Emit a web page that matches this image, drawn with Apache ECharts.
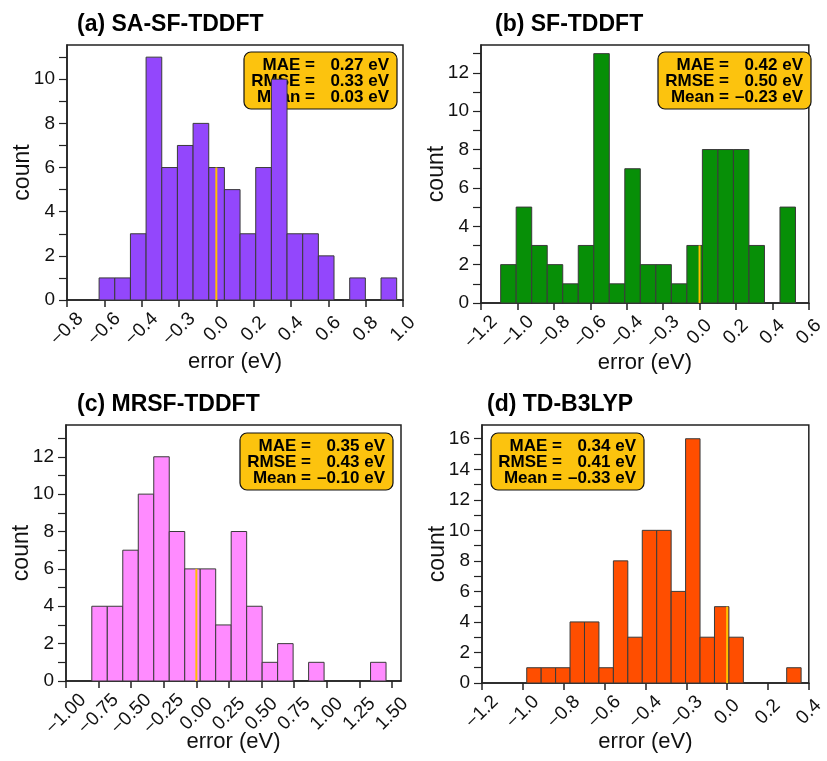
<!DOCTYPE html>
<html>
<head>
<meta charset="utf-8">
<script src="https://cdn.jsdelivr.net/npm/echarts@6/dist/echarts.min.js"></script>
<style>
  html, body { margin: 0; padding: 0; background: #fff; }
  #chart { width: 827px; height: 761px; }
</style>
</head>
<body>
<div id="chart"></div>
<script>
// histograms: first bin edge, bin width, counts
var binStartA = -0.628, binWidthA = 0.0839;
var countsA = [1, 1, 3, 11, 6, 7, 8, 6, 5, 3, 6, 10, 3, 3, 2, 0, 1, 0, 1];
var binStartB = -1.092, binWidthB = 0.0852;
var countsB = [2, 5, 3, 2, 1, 3, 13, 1, 7, 2, 2, 1, 3, 8, 8, 8, 3, 0, 5];
var binStartC = -0.802, binWidthC = 0.1188;
var countsC = [4, 4, 7, 10, 12, 8, 6, 6, 3, 8, 4, 1, 2, 0, 1, 0, 0, 0, 1];
var binStartD = -0.981, binWidthD = 0.0707;
var countsD = [1, 1, 1, 4, 4, 1, 8, 3, 10, 10, 6, 16, 3, 5, 3, 0, 0, 0, 1];

// x tick positions and the labels printed under them
var xTicksA = [-0.8, -0.6, -0.4, -0.2, 0.0, 0.2, 0.4, 0.6, 0.8, 1.0];
var xLabelsA = ['\u22120.8', '\u22120.6', '\u22120.4', '\u22120.3', '0.0', '0.2', '0.4', '0.6', '0.8', '1.0'];
var xTicksB = [-1.2, -1.0, -0.8, -0.6, -0.4, -0.2, 0.0, 0.2, 0.4, 0.6];
var xLabelsB = ['\u22121.2', '\u22121.0', '\u22120.8', '\u22120.6', '\u22120.4', '\u22120.3', '0.0', '0.2', '0.4', '0.6'];
var xTicksC = [-1.0, -0.75, -0.5, -0.25, 0.0, 0.25, 0.5, 0.75, 1.0, 1.25, 1.5];
var xLabelsC = ['\u22121.00', '\u22120.75', '\u22120.50', '\u22120.25', '0.00', '0.25', '0.50', '0.75', '1.00', '1.25', '1.50'];
var xTicksD = [-1.2, -1.0, -0.8, -0.6, -0.4, -0.2, 0.0, 0.2, 0.4];
var xLabelsD = ['\u22121.2', '\u22121.0', '\u22120.8', '\u22120.6', '\u22120.4', '\u22120.3', '0.0', '0.2', '0.4'];

var yLabelsA = [0, 2, 4, 6, 8, 10];
var yLabelsB = [0, 2, 4, 6, 8, 10, 12];
var yLabelsC = [0, 2, 4, 6, 8, 10, 12];
var yLabelsD = [0, 2, 4, 6, 8, 10, 12, 14, 16];

var titles = ['(a) SA-SF-TDDFT', '(b) SF-TDDFT', '(c) MRSF-TDDFT', '(d) TD-B3LYP'];
var statNames = ['MAE =', 'RMSE =', 'Mean ='];
var statsA = ['0.27 eV', '0.33 eV', '0.03 eV'];
var statsB = ['0.42 eV', '0.50 eV', '\u20130.23 eV'];
var statsC = ['0.35 eV', '0.43 eV', '\u20130.10 eV'];
var statsD = ['0.34 eV', '0.41 eV', '\u20130.33 eV'];

var FONT = 'Liberation Sans, Arial, Helvetica, sans-serif';

var panels = [
  { start: binStartA, width: binWidthA, counts: countsA, ticks: xTicksA, labels: xLabelsA, yLabels: yLabelsA,
    color: '#9347FC', xMin: -0.8, xMax: 1.0, yMax: 11.55, stats: statsA, labelGap: 29, nameGap: 51,
    grid: { left: 67, top: 45, width: 336, height: 255 }, box: [244, 52], title: [72, 8] },
  { start: binStartB, width: binWidthB, counts: countsB, ticks: xTicksB, labels: xLabelsB, yLabels: yLabelsB,
    color: '#078F07', xMin: -1.2, xMax: 0.6, yMax: 13.45, stats: statsB, labelGap: 29, nameGap: 49,
    grid: { left: 481, top: 45, width: 333, height: 258 }, box: [658, 52], title: [490, 8] },
  { start: binStartC, width: binWidthC, counts: countsC, ticks: xTicksC, labels: xLabelsC, yLabels: yLabelsC,
    color: '#FF8BFF', xMin: -1.0, xMax: 1.57, yMax: 13.7, stats: statsC, labelGap: 33, nameGap: 50,
    grid: { left: 66, top: 425, width: 335, height: 256 }, box: [240, 433], title: [72, 388] },
  { start: binStartD, width: binWidthD, counts: countsD, ticks: xTicksD, labels: xLabelsD, yLabels: yLabelsD,
    color: '#FF4E00', xMin: -1.2, xMax: 0.4, yMax: 16.9, stats: statsD, labelGap: 29, nameGap: 48,
    grid: { left: 482, top: 425, width: 334, height: 258 }, box: [491, 433], title: [482, 388] }
];

function renderBar(color) {
  return function (params, api) {
    var c = api.value(2);
    if (!c) return;
    var p0 = api.coord([api.value(0), c]);
    var p1 = api.coord([api.value(1), 0]);
    return {
      type: 'rect',
      shape: { x: p0[0], y: p0[1], width: p1[0] - p0[0], height: p1[1] - p0[1] },
      style: { fill: color, stroke: '#3a3a3a', lineWidth: 1 }
    };
  };
}

var grids = [], xAxes = [], yAxes = [], series = [], titleList = [], graphics = [];

panels.forEach(function (p, i) {
  grids.push({
    left: p.grid.left, top: p.grid.top, width: p.grid.width, height: p.grid.height,
    show: true, borderColor: '#222', borderWidth: 1.5, backgroundColor: 'transparent'
  });

  var ticks = p.ticks, labels = p.labels;
  xAxes.push({
    gridIndex: i, type: 'value', min: p.xMin, max: p.xMax,
    name: 'error (eV)', nameLocation: 'middle', nameGap: p.nameGap, nameMoveOverlap: false,
    nameTextStyle: { fontFamily: FONT, fontSize: 22, color: '#111' },
    axisLine: { show: true, onZero: false, lineStyle: { color: '#222', width: 1.5 } },
    axisTick: { show: true, inside: false, length: 7, customValues: ticks, lineStyle: { color: '#222', width: 1.5 } },
    axisLabel: {
      customValues: ticks, rotate: 45, margin: p.labelGap, align: 'center', verticalAlign: 'middle',
      fontFamily: FONT, fontSize: 19, color: '#111',
      formatter: function (v) {
        for (var k = 0; k < ticks.length; k++) {
          if (Math.abs(ticks[k] - v) < 1e-6) return labels[k];
        }
        return '';
      }
    },
    splitLine: { show: false }
  });

  var minor = [];
  for (var t = 0; t <= Math.floor(p.yMax); t++) minor.push(t);
  yAxes.push({
    gridIndex: i, type: 'value', min: 0, max: p.yMax,
    name: 'count', nameLocation: 'middle', nameGap: 33, nameMoveOverlap: false,
    nameTextStyle: { fontFamily: FONT, fontSize: 23, color: '#111' },
    axisLine: { show: true, onZero: false, lineStyle: { color: '#222', width: 1.5 } },
    axisTick: { show: true, inside: false, length: 8, customValues: minor, lineStyle: { color: '#222', width: 1.2 } },
    axisLabel: { customValues: p.yLabels, margin: 12, fontFamily: FONT, fontSize: 19, color: '#111' },
    splitLine: { show: false }
  });

  var bins = p.counts.map(function (c, k) {
    return [p.start + k * p.width, p.start + (k + 1) * p.width, c];
  });
  series.push({
    type: 'custom', xAxisIndex: i, yAxisIndex: i,
    renderItem: renderBar(p.color),
    encode: { x: [0, 1], y: 2 },
    data: bins, z: 2, silent: true
  });

  // yellow marker at zero, as tall as the bin containing zero
  var h = 0;
  bins.forEach(function (b) { if (b[0] <= 0 && b[1] > 0) h = b[2]; });
  series.push({
    type: 'line', xAxisIndex: i, yAxisIndex: i,
    data: [[0, 0], [0, h]], symbol: 'none', silent: true, z: 3,
    lineStyle: { color: '#FFC000', width: 2 }
  });

  titleList.push({
    text: titles[i], left: p.title[0], top: p.title[1],
    textStyle: { fontFamily: FONT, fontSize: 23, fontWeight: 'bold', color: '#000' }
  });

  var children = [{
    type: 'rect', shape: { x: 0, y: 0, width: 153, height: 57, r: 7 },
    style: { fill: '#FCC30E', stroke: '#111', lineWidth: 1.2 }
  }];
  for (var s = 0; s < 3; s++) {
    children.push({
      type: 'text', x: 71, y: 13.5 + s * 15.8,
      style: { text: statNames[s], align: 'right', verticalAlign: 'middle', font: 'bold 17px ' + FONT, fill: '#000' }
    });
    children.push({
      type: 'text', x: 145, y: 13.5 + s * 15.8,
      style: { text: p.stats[s], align: 'right', verticalAlign: 'middle', font: 'bold 17px ' + FONT, fill: '#000' }
    });
  }
  graphics.push({ type: 'group', x: p.box[0], y: p.box[1], z: 10, children: children });
});

var chart = echarts.init(document.getElementById('chart'), null, { renderer: 'canvas' });
chart.setOption({
  animation: false,
  backgroundColor: '#fff',
  title: titleList,
  grid: grids,
  xAxis: xAxes,
  yAxis: yAxes,
  series: series,
  graphic: graphics
});
</script>
</body>
</html>
